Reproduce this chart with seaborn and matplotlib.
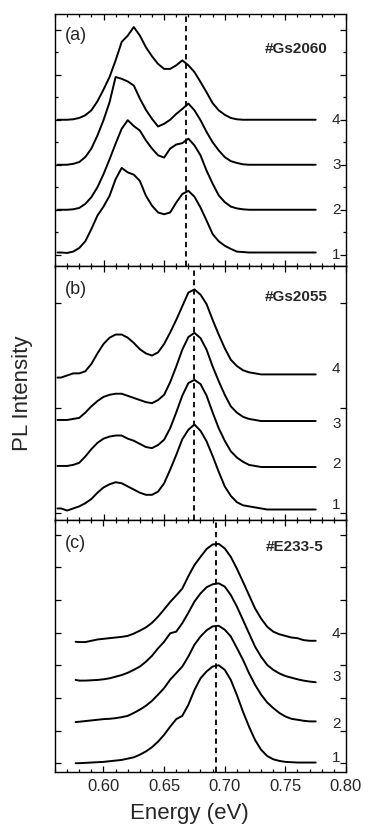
import numpy as np
import pandas as pd
import matplotlib
matplotlib.use("Agg")
import matplotlib.pyplot as plt
import seaborn as sns
from matplotlib.ticker import MultipleLocator

sns.set_style("ticks")
plt.rcParams['font.family'] = ['Liberation Sans', 'DejaVu Sans']

# ---------------- data ----------------
# Panel (a) #Gs2060
energy_a = [0.562] + list(np.round(np.arange(0.565, 0.7751, 0.005), 3))
a1 = [0.05, 0.05, 0.04, 0.07, 0.15, 0.30, 0.57, 0.87, 1.07, 1.31, 1.68,
      1.93, 1.83, 1.78, 1.64, 1.31, 1.09, 0.94, 0.90, 0.94, 1.16,
      1.35, 1.42, 1.29, 1.05, 0.76, 0.46, 0.30, 0.20, 0.13, 0.07,
      0.06, 0.05, 0.05, 0.05, 0.05, 0.05, 0.05, 0.05, 0.05, 0.05, 0.05, 0.05, 0.05]
a2 = [0, 0, 0, 0.01, 0.04, 0.13, 0.28, 0.50, 0.79, 1.12, 1.47,
      1.80, 1.99, 1.86, 1.76, 1.54, 1.36, 1.21, 1.16, 1.36, 1.45,
      1.48, 1.58, 1.43, 1.21, 0.87, 0.58, 0.32, 0.17, 0.07, 0.03,
      0.01, 0, 0, 0, 0, 0, 0, 0, 0, 0, 0, 0, 0]
a3 = [0, 0, 0, 0.02, 0.06, 0.17, 0.36, 0.65, 0.99, 1.39, 1.95,
      1.91, 1.85, 1.76, 1.47, 1.22, 1.02, 0.85, 0.91, 1.00, 1.13,
      1.24, 1.36, 1.21, 0.99, 0.73, 0.50, 0.32, 0.17, 0.08, 0.04,
      0.01, 0, 0, 0, 0, 0, 0, 0, 0, 0, 0, 0, 0]
a4 = [0, 0, 0, 0.01, 0.04, 0.10, 0.21, 0.41, 0.67, 0.95, 1.32,
      1.73, 1.87, 2.06, 1.87, 1.61, 1.41, 1.24, 1.13, 1.13, 1.21,
      1.32, 1.21, 1.06, 0.84, 0.61, 0.37, 0.21, 0.11, 0.04, 0.01,
      0, 0, 0, 0, 0, 0, 0, 0, 0, 0, 0, 0, 0]
offsets_a = [0.0, 1.0, 2.0, 3.0]

# Panel (b) #Gs2055
energy_b = energy_a
b1 = [0.01, 0.01, -0.01, 0.01, 0.03, 0.06, 0.10, 0.16, 0.21, 0.24, 0.26,
      0.25, 0.22, 0.19, 0.16, 0.14, 0.14, 0.17, 0.25, 0.38, 0.52,
      0.67, 0.76, 0.81, 0.75, 0.65, 0.51, 0.36, 0.22, 0.13, 0.07,
      0.04, 0.03, 0.02, 0.01, 0, 0, 0, 0, 0, 0, 0, 0, 0]
b2 = [0.01, 0.01, 0.01, 0.02, 0.04, 0.10, 0.17, 0.23, 0.27, 0.29, 0.30,
      0.30, 0.27, 0.25, 0.22, 0.19, 0.18, 0.21, 0.26, 0.37, 0.52,
      0.68, 0.80, 0.83, 0.79, 0.68, 0.52, 0.37, 0.25, 0.15, 0.09,
      0.05, 0.02, 0.01, 0, 0, 0, 0, 0, 0, 0, 0, 0, 0]
b3 = [0.01, 0.01, 0.01, 0.02, 0.03, 0.08, 0.14, 0.19, 0.23, 0.25, 0.26,
      0.26, 0.24, 0.22, 0.20, 0.18, 0.17, 0.20, 0.25, 0.37, 0.52,
      0.68, 0.80, 0.84, 0.79, 0.68, 0.52, 0.38, 0.25, 0.14, 0.08,
      0.04, 0.02, 0.01, 0, 0, 0, 0, 0, 0, 0, 0, 0, 0]
b4 = [-0.03, -0.03, -0.01, 0.01, 0.01, 0.03, 0.10, 0.20, 0.29, 0.35, 0.38,
      0.38, 0.35, 0.30, 0.24, 0.20, 0.18, 0.21, 0.29, 0.40, 0.52,
      0.65, 0.78, 0.81, 0.76, 0.67, 0.52, 0.38, 0.25, 0.14, 0.08,
      0.04, 0.02, 0.01, 0, 0, 0, 0, 0, 0, 0, 0, 0, 0]
offsets_b = [0.03, 0.435, 0.873, 1.317]

# Panel (c) #E233-5
energy_c = [0.577] + list(np.round(np.arange(0.580, 0.7751, 0.005), 3))
c1 = [0, 0, 0.01, 0.02, 0.03, 0.04, 0.06, 0.08, 0.10, 0.14, 0.18,
      0.26, 0.36, 0.49, 0.66, 0.87, 1.12, 1.35, 1.45, 1.79, 2.24,
      2.60, 2.81, 2.96, 3.00, 2.86, 2.55, 2.09, 1.58, 1.12, 0.71,
      0.41, 0.22, 0.12, 0.07, 0.04, 0.03, 0.02, 0.02, 0.02, 0.02]
c2 = [-0.01, 0, 0.02, 0.04, 0.06, 0.08, 0.09, 0.11, 0.14, 0.18, 0.27,
      0.37, 0.49, 0.64, 0.83, 1.03, 1.29, 1.49, 1.69, 2.00, 2.36,
      2.61, 2.80, 2.92, 2.94, 2.82, 2.61, 2.26, 1.90, 1.49, 1.13,
      0.83, 0.59, 0.42, 0.27, 0.16, 0.09, 0.06, 0.03, 0.01, 0.01]
c3 = [0.02, 0, 0, 0.01, 0.02, 0.04, 0.07, 0.12, 0.17, 0.24, 0.33,
      0.43, 0.58, 0.76, 0.99, 1.19, 1.45, 1.50, 1.76, 2.08, 2.42,
      2.67, 2.86, 2.95, 2.98, 2.88, 2.62, 2.27, 1.86, 1.45, 1.04,
      0.73, 0.48, 0.33, 0.22, 0.14, 0.09, 0.04, 0, -0.03, -0.05]
c4 = [-0.01, -0.02, -0.02, 0.02, 0.06, 0.08, 0.10, 0.12, 0.14, 0.17, 0.24,
      0.33, 0.43, 0.57, 0.76, 0.98, 1.21, 1.41, 1.62, 2.00, 2.34,
      2.59, 2.83, 2.97, 2.99, 2.85, 2.59, 2.23, 1.83, 1.42, 1.01,
      0.70, 0.45, 0.30, 0.22, 0.17, 0.12, 0.10, 0.04, 0.02, 0.02]
offsets_c = [0.0, 1.27, 2.53, 3.73]

curve_labels = ["1", "2", "3", "4"]
samples = ["#Gs2060", "#Gs2055", "#E233-5"]
panel_letters = ["(a)", "(b)", "(c)"]
peak_lines = [0.668, 0.675, 0.693]
x_ticks = [0.60, 0.65, 0.70, 0.75, 0.80]
x_tick_labels = ["0.60", "0.65", "0.70", "0.75", "0.80"]

# ---------------- layout ----------------
W, H = 365, 825
fig = plt.figure(figsize=(W / 100, H / 100), dpi=100)
left, width = 55 / W, 291 / W
boxes = [(266, 252), (520, 254), (772, 252)]  # bottom pixel, height

panels = [
    dict(E=energy_a, curves=[a1, a2, a3, a4], offs=offsets_a, ylim=(-0.25, 5.35),
         major=1.0, minor=0.5, lab_y=[0.0, 1.0, 2.0, 3.0], samp_y=0.861, samp_x=0.938,
         let_y=0.948),
    dict(E=energy_b, curves=[b1, b2, b3, b4], offs=offsets_b, ylim=(-0.07, 2.35),
         major=1.0, minor=None, lab_y=[0.07, 0.46, 0.84, 1.37], samp_y=0.878, samp_x=0.938,
         let_y=0.941),
    dict(E=energy_c, curves=[c1, c2, c3, c4], offs=offsets_c, ylim=(-0.27, 7.45),
         major=1.0, minor=None, lab_y=[0.16, 1.19, 2.64, 3.95], samp_y=0.893, samp_x=0.921,
         let_y=0.940),
]

for i, p in enumerate(panels):
    bpx, hpx = boxes[i]
    ax = fig.add_axes([left, (H - bpx) / H, width, hpx / H])
    rows = []
    for lab, vals, off in zip(curve_labels, p["curves"], p["offs"]):
        for e, v in zip(p["E"], vals):
            rows.append(dict(energy=e, intensity=v + off, curve=lab))
    df = pd.DataFrame(rows)
    sns.lineplot(data=df, x="energy", y="intensity", hue="curve",
                 palette=["black"] * 4, linewidth=1.4, legend=False, ax=ax,
                 estimator=None, sort=False)
    ax.axvline(peak_lines[i], color="black", lw=1.3, ls=(0, (3.0, 2.2)))
    ax.set_xlim(0.56, 0.80)
    ax.set_ylim(*p["ylim"])
    ax.xaxis.set_major_locator(MultipleLocator(0.05))
    ax.xaxis.set_minor_locator(MultipleLocator(0.01))
    ax.yaxis.set_major_locator(MultipleLocator(p["major"]))
    if p["minor"]:
        ax.yaxis.set_minor_locator(MultipleLocator(p["minor"]))
    ax.tick_params(which="both", direction="in", top=True, right=True,
                   bottom=True, left=True, width=0.9, color="black")
    ax.tick_params(which="major", length=4)
    ax.tick_params(which="minor", length=2.5)
    ax.set_yticklabels([])
    ax.set_xlabel("")
    ax.set_ylabel("")
    if i < 2:
        ax.set_xticklabels([])
    else:
        ax.set_xticks(x_ticks)
        ax.set_xticklabels(x_tick_labels, fontsize=12)
        ax.tick_params(axis="x", which="major", pad=5)
    for s in ax.spines.values():
        s.set_linewidth(1.0)
        s.set_color("black")
    for lab, ly in zip(curve_labels, p["lab_y"]):
        ax.text(0.7955, ly, lab, ha="right", va="center", fontsize=11)
    ax.text(p["samp_x"], p["samp_y"], samples[i], transform=ax.transAxes,
            ha="right", va="center", fontsize=11, fontweight="bold")
    ax.text(0.034, p["let_y"], panel_letters[i], transform=ax.transAxes,
            ha="left", va="top", fontsize=13)

fig.text(22.5 / W, 0.523, "PL Intensity", rotation=90, fontsize=16,
         ha="center", va="center")
fig.text(189 / W, (H - 813) / H, "Energy (eV)", fontsize=16,
         ha="center", va="center")

fig.savefig("out.png", dpi=100)
